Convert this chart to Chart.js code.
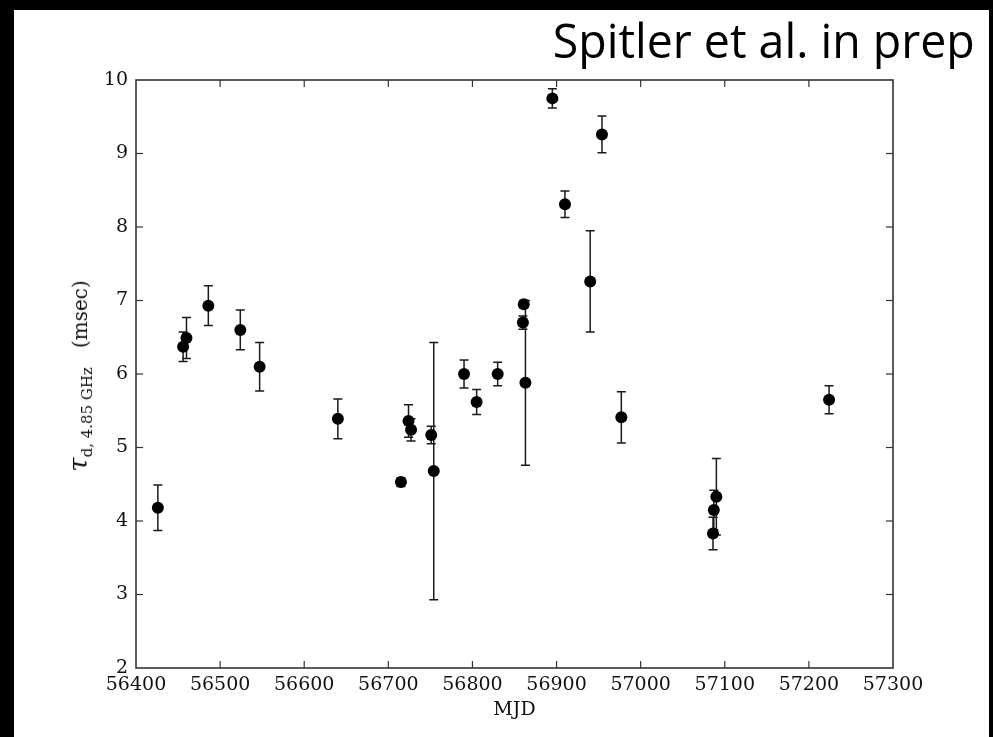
<!DOCTYPE html>
<html>
<head>
<meta charset="utf-8">
<script src="https://cdn.jsdelivr.net/npm/chart.js@4.4.1/dist/chart.umd.min.js"></script>
<style>
  html, body { margin: 0; padding: 0; background: #000; }
  #wrap { position: relative; width: 993px; height: 737px; background: #000; overflow: hidden; }
  #white { position: absolute; left: 14px; top: 10px; width: 975px; height: 727px; background: #fff; }
  #c { position: absolute; left: 0; top: 0; }
  #title { position: absolute; right: 18px; top: 17px; font-family: "Open Sans", sans-serif; font-size: 47px;
           line-height: 47px; color: #000; white-space: nowrap; transform-origin: right top; }
  #ylab { position: absolute; left: 80px; top: 376px; transform: translate(-50%, -50%) rotate(-90deg);
          transform-origin: center; white-space: nowrap; font-family: "DejaVu Serif", serif; font-size: 20px;
          line-height: 26px; color: #111; }
  #ylab .tau { font-style: italic; font-size: 26px; }
  #ylab .sub { font-size: 15px; position: relative; top: 5px; }
</style>
</head>
<body>
<div id="wrap">
  <div id="white"></div>
  <canvas id="c" width="993" height="737"></canvas>
  <div id="title">Spitler et al. in prep</div>
  <div id="ylab"><span class="tau">τ</span><span class="sub">d, 4.85 GHz</span>&nbsp;&nbsp;&nbsp;(msec)</div>
</div>
<script>
// ---- data ----
const mjd    = [56426, 56456, 56460, 56486, 56524, 56547, 56640, 56715, 56724, 56727, 56751, 56754, 56790, 56805, 56830, 56860, 56861, 56863, 56895, 56910, 56940, 56954, 56977, 57086, 57087, 57090, 57224];
const tau    = [4.18, 6.37, 6.49, 6.93, 6.60, 6.10, 5.39, 4.53, 5.36, 5.24, 5.17, 4.68, 6.00, 5.62, 6.00, 6.70, 6.95, 5.88, 9.75, 8.31, 7.26, 9.26, 5.41, 3.83, 4.15, 4.33, 5.65];
const tauErr = [0.31, 0.20, 0.28, 0.27, 0.27, 0.33, 0.27, 0.06, 0.22, 0.15, 0.12, 1.75, 0.19, 0.17, 0.16, 0.09, 0.05, 1.12, 0.13, 0.18, 0.69, 0.25, 0.35, 0.22, 0.27, 0.52, 0.19];
const xTicks = [56400, 56500, 56600, 56700, 56800, 56900, 57000, 57100, 57200, 57300];
const yTicks = [2, 3, 4, 5, 6, 7, 8, 9, 10];
const xTitle = 'MJD';

// fit title width
(function(){
  const t = document.getElementById('title');
  const w = t.getBoundingClientRect().width;
  t.style.transform = 'scaleX(' + (422 / w) + ')';
})();

const errorBars = {
  id: 'errorBars',
  beforeDatasetsDraw(chart) {
    const { ctx, scales: { x, y } } = chart;
    ctx.save();
    ctx.strokeStyle = '#1a1a1a';
    ctx.lineWidth = 1.5;
    const cap = 4.5;
    for (let i = 0; i < mjd.length; i++) {
      const px = x.getPixelForValue(mjd[i]);
      const yt = y.getPixelForValue(tau[i] + tauErr[i]);
      const yb = y.getPixelForValue(tau[i] - tauErr[i]);
      ctx.beginPath();
      ctx.moveTo(px, yt); ctx.lineTo(px, yb);
      ctx.moveTo(px - cap, yt); ctx.lineTo(px + cap, yt);
      ctx.moveTo(px - cap, yb); ctx.lineTo(px + cap, yb);
      ctx.stroke();
    }
    ctx.restore();
  }
};

const frame = {
  id: 'frame',
  afterDatasetsDraw(chart) {
    const { ctx, chartArea: a, scales: { x, y } } = chart;
    ctx.save();
    ctx.strokeStyle = '#333';
    ctx.lineWidth = 1.2;
    const L = 7;
    const seg = (x1, y1, x2, y2) => { ctx.beginPath(); ctx.moveTo(x1, y1); ctx.lineTo(x2, y2); ctx.stroke(); };
    x.ticks.forEach(t => {
      const px = x.getPixelForValue(t.value);
      if (px <= a.left + 1 || px >= a.right - 1) return;
      seg(px, a.bottom, px, a.bottom - L);
      seg(px, a.top, px, a.top + L);
    });
    y.ticks.forEach(t => {
      const py = y.getPixelForValue(t.value);
      if (py <= a.top + 1 || py >= a.bottom - 1) return;
      seg(a.left, py, a.left + L, py);
      seg(a.right, py, a.right - L, py);
    });
    ctx.lineWidth = 1.6;
    ctx.strokeRect(a.left, a.top, a.right - a.left, a.bottom - a.top);
    ctx.restore();
  }
};

new Chart(document.getElementById('c'), {
  type: 'scatter',
  data: {
    datasets: [{
      data: mjd.map((m, i) => ({ x: m, y: tau[i] })),
      backgroundColor: '#000',
      borderColor: '#000',
      borderWidth: 0,
      pointRadius: 6,
      pointHoverRadius: 6
    }]
  },
  options: {
    responsive: false,
    animation: false,
    events: [],
    layout: { padding: { top: 80, right: 100, bottom: 0, left: 0 } },
    plugins: { legend: { display: false }, tooltip: { enabled: false } },
    scales: {
      x: {
        type: 'linear', min: 56400, max: 57300,
        afterBuildTicks: s => { s.ticks = xTicks.map(v => ({ value: v })); },
        afterFit: s => { s.height = 69; },
        grid: { display: false, drawTicks: false },
        border: { display: false },
        ticks: { color: '#111', font: { family: 'DejaVu Serif', size: 19 }, padding: 6, maxRotation: 0, autoSkip: false,
                 callback: v => String(v) },
        title: { display: true, text: xTitle, color: '#111', font: { family: 'DejaVu Serif', size: 19 },
                 padding: { top: 2, bottom: 16 } }
      },
      y: {
        type: 'linear', min: 2, max: 10,
        afterBuildTicks: s => { s.ticks = yTicks.map(v => ({ value: v })); },
        afterFit: s => { s.width = 136; },
        grid: { display: false, drawTicks: false },
        border: { display: false },
        ticks: { color: '#111', font: { family: 'DejaVu Serif', size: 19 }, padding: 8, autoSkip: false,
                 callback: v => String(v) }
      }
    }
  },
  plugins: [errorBars, frame]
});
</script>
</body>
</html>
